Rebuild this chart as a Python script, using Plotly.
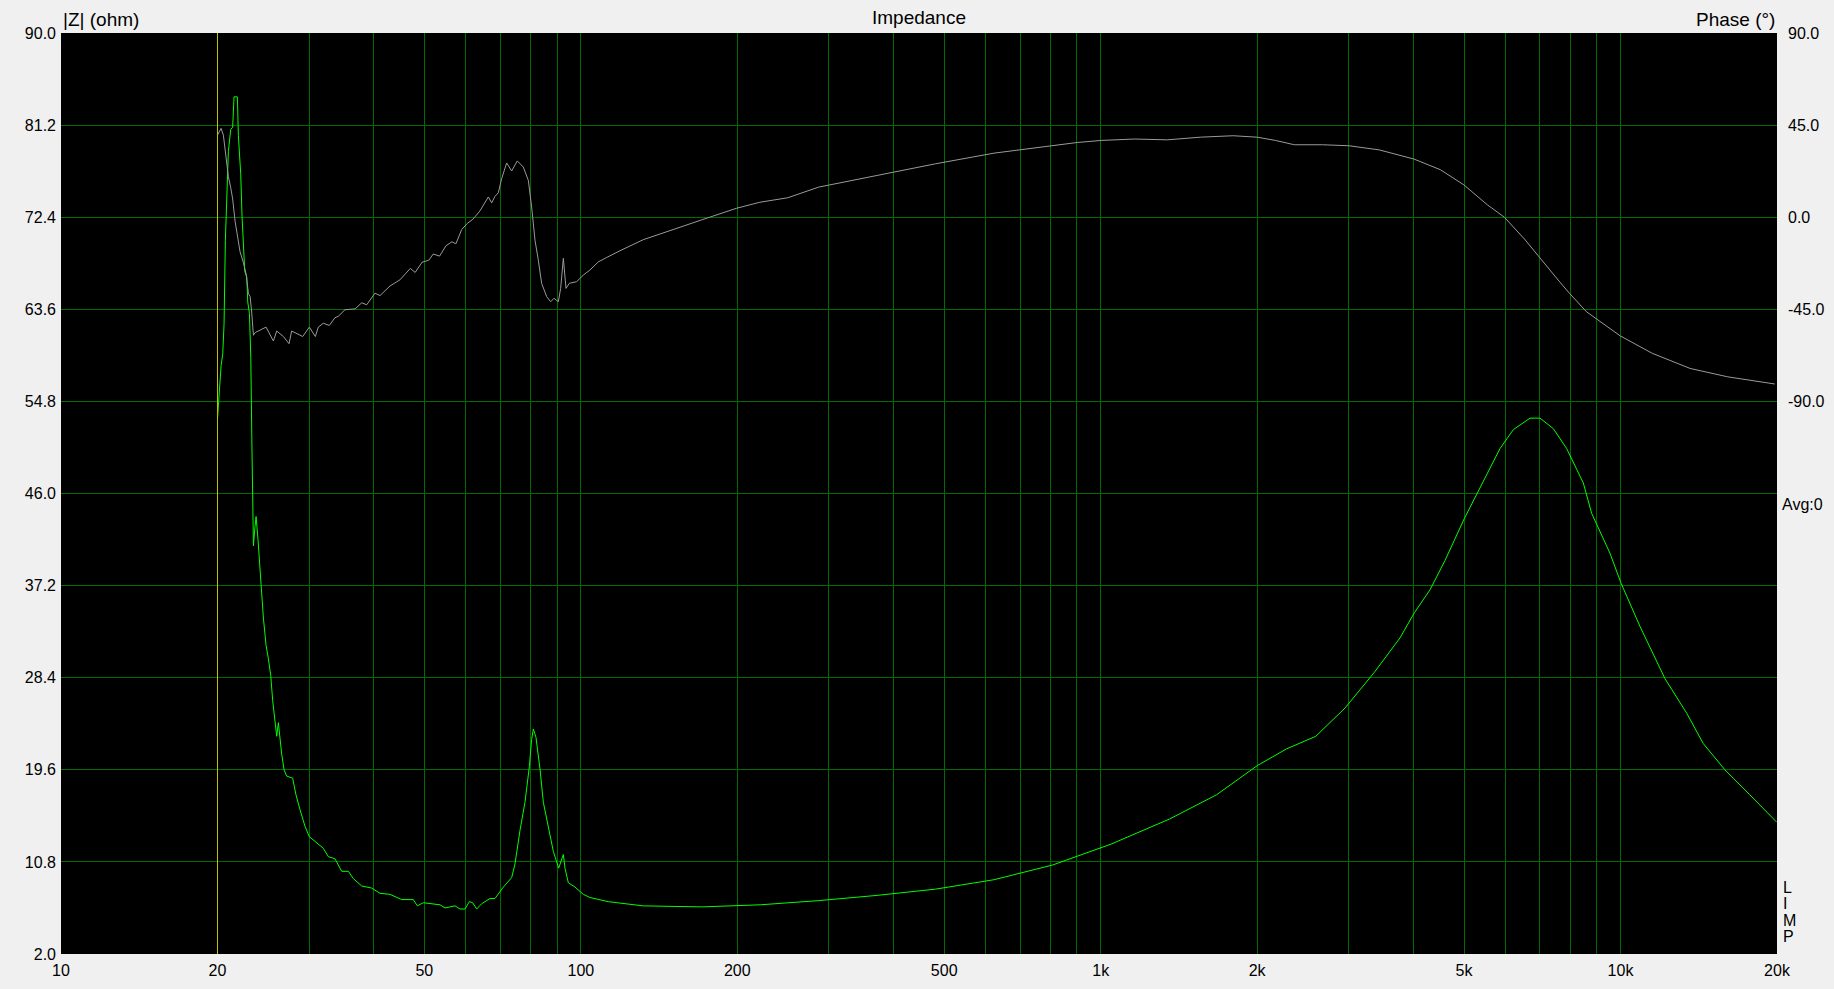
import plotly.graph_objects as go

# ---- impedance magnitude |Z| (ohm) ----
freq_z = [20.0, 20.17, 20.32, 20.47, 20.59, 20.71, 20.84, 20.99, 21.21, 21.39, 21.52, 21.84, 21.94,
          22.17, 22.30, 22.43, 22.57, 22.77, 22.87, 23.04, 23.18, 23.28, 23.38, 23.45, 23.59, 23.73,
          23.94, 24.08, 24.26, 24.51, 24.80, 25.06, 25.32, 25.54, 25.81, 26.00, 26.19, 26.38, 26.58,
          26.86, 27.17, 27.90, 28.32, 28.82, 29.47, 30.04, 31.03, 31.96, 32.68, 33.65, 34.67, 35.71,
          36.51, 37.88, 39.59, 41.08, 42.94, 45.22, 47.61, 48.46, 49.77, 53.59, 54.79, 57.28, 58.56,
          59.87, 61.03, 61.93, 63.04, 64.45, 66.87, 68.37, 70.95, 73.61, 74.70, 76.37, 78.08, 79.60,
          80.42, 81.02, 81.98, 83.45, 84.69, 86.59, 88.53, 90.65, 92.54, 93.23, 94.61, 97.44, 101.1,
          104.1, 112.9, 131.8, 170.8, 221.3, 286.8, 371.5, 481.5, 623.7, 808, 1047, 1357, 1669, 2001,
          2278, 2593, 2951, 3359, 3765, 4012, 4301, 4596, 5006, 5367, 5865, 6220, 6697, 7000, 7424,
          7877, 8482, 8801, 9542, 10030, 10900, 12180, 13410, 14430, 15880, 17740, 19970]
z_ohm = [53.1, 55.8, 58.2, 59.3, 62.2, 70.2, 73.4, 78.7, 80.8, 81.0, 83.9, 83.9, 80.2,
         76.5, 72.4, 70.2, 67.2, 66.7, 64.3, 63.2, 59.0, 51.6, 44.5, 41.0, 42.6, 43.8,
         41.5, 39.9, 37.3, 34.1, 31.5, 30.2, 28.6, 26.2, 24.3, 22.8, 24.1, 22.5, 21.1,
         19.6, 19.0, 18.8, 17.2, 15.8, 14.2, 13.2, 12.6, 12.1, 11.3, 11.1, 9.9, 9.9,
         9.2, 8.5, 8.3, 7.8, 7.7, 7.2, 7.2, 6.6, 6.9, 6.7, 6.4, 6.6, 6.3,
         6.3, 7.0, 6.9, 6.3, 6.8, 7.3, 7.3, 8.4, 9.3, 10.6, 13.8, 16.5, 19.9,
         22.5, 23.5, 22.7, 19.7, 16.5, 14.2, 11.8, 10.2, 11.5, 10.2, 8.8, 8.4, 7.7,
         7.4, 7.0, 6.6, 6.5, 6.7, 7.1, 7.6, 8.2, 9.1, 10.5, 12.5, 14.9, 17.2, 20.0,
         21.6, 22.8, 25.5, 28.9, 32.2, 34.6, 36.8, 39.6, 43.6, 46.6, 50.3, 52.1, 53.2, 53.2, 52.2,
         50.3, 47.0, 44.1, 40.3, 37.4, 33.3, 28.3, 25.0, 22.1, 19.6, 17.2, 14.6]

# ---- phase (deg) ----
freq_ph = [20.0, 20.32, 20.53, 20.77, 20.99, 21.21, 21.39, 21.62, 21.84, 22.10, 22.43, 22.70, 22.94,
           23.11, 23.28, 23.45, 23.63, 24.15, 24.80, 25.62, 26.00, 26.78, 27.46, 27.78, 28.49, 29.17,
           30.04, 30.85, 31.26, 31.96, 32.82, 33.65, 34.16, 35.18, 36.79, 37.89, 38.73, 40.18, 41.08,
           42.94, 44.88, 47.0, 48.0, 49.5, 51.0, 52.0, 53.5, 55.0, 56.5, 57.5, 59.0, 60.5, 62.0, 63.97,
           66.38, 67.37, 68.37, 69.38, 70.41, 72.0, 73.6, 75.47, 77.50, 79.25, 80.42, 81.62, 82.83,
           84.06, 85.95, 87.49, 88.79, 90.51, 91.45, 92.54, 93.64, 95.03, 98.16, 101.1, 104.1, 108.1,
           112.1, 115.5, 118.9, 131.8, 150, 170.8, 199.5, 221, 250, 286.8, 371.5, 481.5, 623.7, 764,
           901, 1002, 1160, 1343, 1554, 1798, 2000, 2169, 2358, 2673, 3004, 3433, 4006, 4503, 4996,
           5548, 5978, 6556, 6977, 7586, 7978, 8601, 9991, 11510, 13610, 16080, 19810]
phase_deg = [40.1, 43.4, 40.1, 29.3, 19.8, 14.4, 8.9, -1.9, -10.0, -16.8, -22.2, -27.7, -37.4,
             -38.7, -46.9, -57.7, -56.4, -55.0, -53.7, -60.5, -55.6, -58.3, -61.8, -55.6, -57.2, -58.3,
             -53.7, -58.3, -53.7, -51.8, -52.9, -49.1, -48.4, -45.2, -44.8, -41.8, -42.8, -37.1, -38.3,
             -33.6, -30.6, -25.0, -27.0, -22.0, -21.0, -18.0, -19.0, -14.0, -12.0, -13.0, -6.0, -3.0, -1.0, 3.1,
             9.9, 7.0, 10.2, 11.9, 18.8, 26.5, 22.6, 27.5, 24.5, 18.0, 5.0, -11.2, -21.0,
             -32.3, -38.8, -41.3, -39.6, -41.3, -34.8, -20.1, -34.8, -32.3, -31.5, -28.3, -25.8, -21.8,
             -19.7, -18.0, -16.4, -11.0, -6.0, -1.3, 4.4, 7.3, 9.5, 14.7, 20.4, 26.1, 31.3, 34.2,
             36.5, 37.5, 38.2, 37.8, 39.1, 39.8, 39.1, 37.5, 35.4, 35.4, 34.9, 32.9, 28.4, 23.2, 15.8,
             6.0, 0.0, -11.1, -19.6, -30.7, -37.2, -46.2, -58.0, -66.5, -73.9, -78.0, -81.5]

# ---- axes ----
x_grid = [20, 30, 40, 50, 60, 70, 80, 90, 100, 200, 300, 400, 500, 600, 700, 800, 900,
          1000, 2000, 3000, 4000, 5000, 6000, 7000, 8000, 9000, 10000, 20000]
x_labels = {10: "10", 20: "20", 50: "50", 100: "100", 200: "200", 500: "500",
            1000: "1k", 2000: "2k", 5000: "5k", 10000: "10k", 20000: "20k"}
z_ticks = [2.0, 10.8, 19.6, 28.4, 37.2, 46.0, 54.8, 63.6, 72.4, 81.2, 90.0]
phase_ticks = [90, 45, 0, -45, -90]
phase_range = [-360, 90]
marker_freq = 20

FONT = "Liberation Sans, Arial, sans-serif"
GRID = "#006c00"

xt = [10] + x_grid
fig = go.Figure()
fig.add_trace(go.Scatter(x=freq_ph, y=phase_deg, yaxis="y2", mode="lines",
                         line=dict(color="#9a9a9a", width=1), showlegend=False, hoverinfo="skip"))
fig.add_trace(go.Scatter(x=freq_z, y=z_ohm, mode="lines",
                         line=dict(color="#00ff00", width=1), showlegend=False, hoverinfo="skip"))

fig.add_shape(type="line", xref="x", yref="paper", x0=marker_freq, x1=marker_freq, y0=0, y1=1,
              line=dict(color="#c8c000", width=1), layer="above")

fig.update_layout(
    width=1834, height=989,
    paper_bgcolor="#f0f0f0", plot_bgcolor="#000000",
    margin=dict(l=61, r=57, t=33, b=35, autoexpand=False),
    font=dict(family=FONT, size=16, color="#000000"),
    xaxis=dict(type="log", range=[1, 4.30103], tickvals=xt,
               ticktext=[x_labels.get(v, "") for v in xt], automargin=False,
               showgrid=True, gridcolor=GRID, gridwidth=1, zeroline=False,
               showline=False, ticks="", tickfont=dict(size=16, family=FONT),
               ticklabelstandoff=5),
    yaxis=dict(range=[2, 90], tickvals=z_ticks, ticktext=[f"{v:.1f}" for v in z_ticks],
               automargin=False,
               showgrid=True, gridcolor=GRID, gridwidth=1, zeroline=False,
               showline=False, ticks="", tickfont=dict(size=16, family=FONT),
               ticklabelstandoff=4),
    yaxis2=dict(range=phase_range, overlaying="y", side="right", tickvals=phase_ticks,
                ticktext=[f"{v:.1f}" for v in phase_ticks], showgrid=False, zeroline=False,
                automargin=False,
                showline=False, ticks="", tickfont=dict(size=16, family=FONT),
                ticklabelstandoff=10),
    annotations=[
        dict(text="|Z| (ohm)", xref="paper", yref="paper", x=0, y=1, xanchor="left",
             yanchor="middle", yshift=14, showarrow=False, font=dict(size=19, family=FONT)),
        dict(text="Impedance", xref="paper", yref="paper", x=0.5, y=1, xanchor="center",
             yanchor="middle", yshift=16, showarrow=False, font=dict(size=19, family=FONT)),
        dict(text="Phase (°)", xref="paper", yref="paper", x=1, y=1, xanchor="right",
             yanchor="middle", yshift=14, showarrow=False, font=dict(size=19, family=FONT)),
        dict(text="Avg:0", xref="paper", yref="paper", x=1, y=0.5, xanchor="left",
             yanchor="top", xshift=3, showarrow=False, font=dict(size=16, family=FONT)),
    ] + [
        dict(text=ch, xref="paper", yref="paper", x=1, y=yy, xanchor="left", yanchor="middle",
             xshift=4, showarrow=False, font=dict(size=16, family=FONT))
        for ch, yy in zip(["L", "I", "M", "P"], [0.0727, 0.0543, 0.0362, 0.0185])
    ],
)

fig.write_html(
    "out.html",
    config={"displayModeBar": False},
    post_script=("document.documentElement.style.overflow='hidden';"
                 "document.body.style.overflow='hidden';"
                 "document.body.style.margin='0';"
                 "document.body.style.background='#f0f0f0';"),
)
